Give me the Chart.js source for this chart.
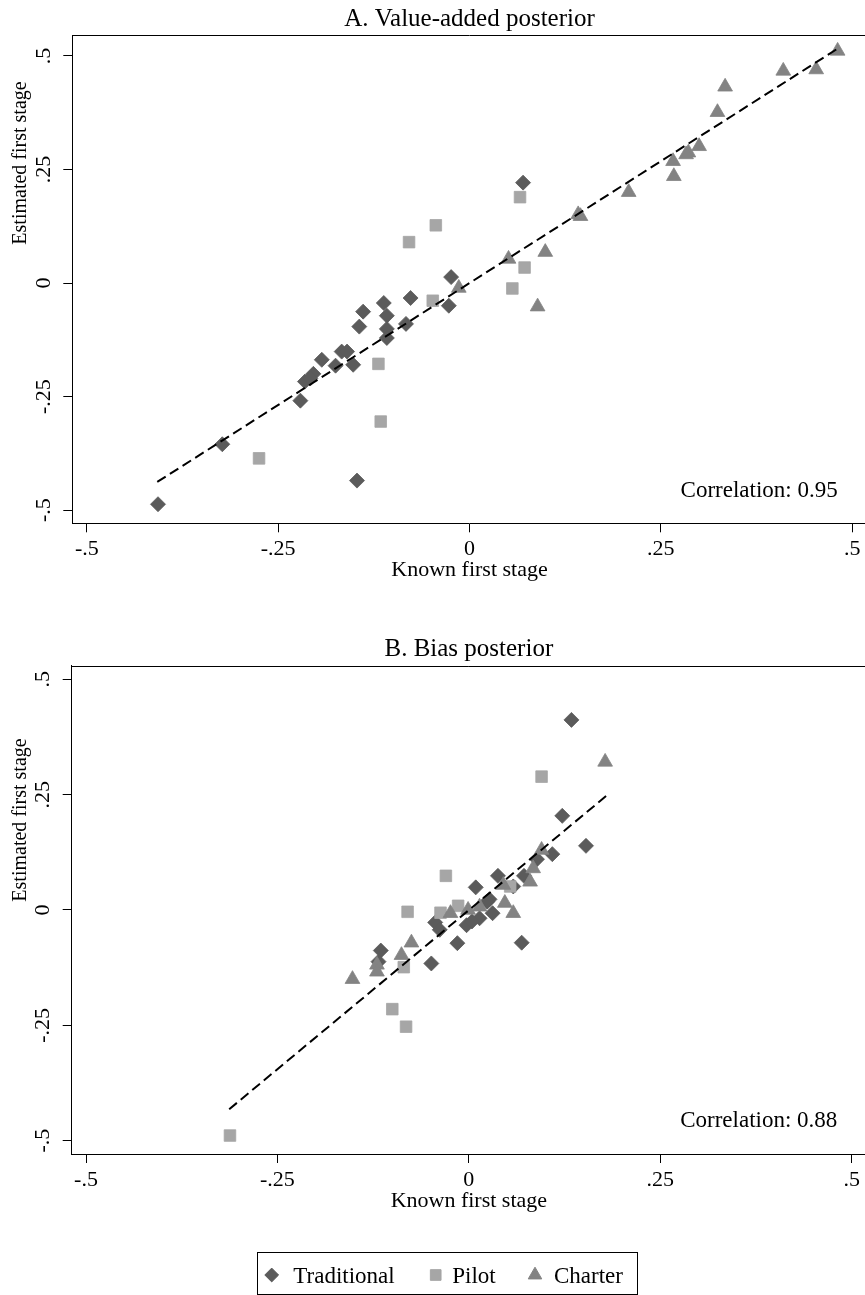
<!DOCTYPE html>
<html><head><meta charset="utf-8">
<script src="https://cdn.jsdelivr.net/npm/chart.js@4/dist/chart.umd.min.js"></script>
<style>
html,body{margin:0;padding:0;overflow:hidden;background:#fff}
body{width:865px;height:1295px;position:relative}
canvas{position:absolute;left:0}
#ca{top:0}
#cb{top:620px}
</style></head>
<body>
<canvas id="ca" width="880" height="600" style="width:880px;height:600px"></canvas>
<canvas id="cb" width="880" height="675" style="width:880px;height:675px"></canvas>
<script>
// ---------- tick labels ----------
const xTicks = [-0.5, -0.25, 0, 0.25, 0.5];
const xTickLabels = ['-.5', '-.25', '0', '.25', '.5'];
const yTicks = [-0.5, -0.25, 0, 0.25, 0.5];
const yTickLabels = ['-.5', '-.25', '0', '.25', '.5'];
const seriesNames = ['Traditional', 'Pilot', 'Charter'];

// ---------- Panel A: Value-added posterior ----------
const tradAx = [0.070, -0.024, -0.077, -0.027, -0.083, -0.112, -0.139, -0.108, -0.144, -0.108, -0.108, -0.167, -0.160, -0.193, -0.152, -0.175, -0.204, -0.215, -0.208, -0.221, -0.323, -0.147, -0.407];
const tradAy = [0.221, 0.013, -0.033, -0.050, -0.090, -0.044, -0.063, -0.072, -0.096, -0.101, -0.121, -0.151, -0.151, -0.169, -0.180, -0.182, -0.200, -0.217, -0.210, -0.259, -0.355, -0.435, -0.487];
const pilotAx = [0.066, -0.044, -0.079, 0.072, 0.056, -0.048, -0.119, -0.116, -0.275];
const pilotAy = [0.189, 0.127, 0.090, 0.034, -0.012, -0.039, -0.178, -0.305, -0.386];
const charterAx = [0.481, 0.453, 0.410, 0.334, 0.324, 0.300, 0.286, 0.283, 0.266, 0.267, 0.208, 0.145, 0.142, 0.099, 0.051, -0.014, 0.089];
const charterAy = [0.511, 0.470, 0.467, 0.432, 0.376, 0.301, 0.287, 0.283, 0.268, 0.235, 0.200, 0.147, 0.151, 0.068, 0.053, -0.011, -0.052];
const fitAx = [-0.408, 0.481];
const fitAy = [-0.438, 0.516];
const corrA = 'Correlation: 0.95';

// ---------- Panel B: Bias posterior ----------
const tradBx = [0.134, 0.122, 0.153, 0.109, 0.089, 0.038, 0.009, 0.072, 0.058, 0.027, 0.031, 0.024, 0.014, -0.003, 0.004, -0.044, -0.038, -0.015, -0.049, 0.069, -0.115, -0.118];
const tradBy = [0.412, 0.204, 0.139, 0.121, 0.110, 0.074, 0.049, 0.074, 0.051, 0.023, -0.007, 0.018, -0.018, -0.033, -0.025, -0.027, -0.043, -0.072, -0.116, -0.071, -0.088, -0.112];
const pilotBx = [0.095, -0.030, -0.080, -0.037, -0.014, -0.082, -0.085, -0.100, -0.312, 0.054];
const pilotBy = [0.289, 0.074, -0.004, -0.006, 0.009, -0.253, -0.124, -0.215, -0.489, 0.051];
const charterBx = [0.178, 0.095, 0.084, 0.080, 0.047, 0.058, 0.045, -0.024, -0.001, 0.014, -0.075, -0.088, -0.120, -0.120, -0.152];
const charterBy = [0.321, 0.130, 0.090, 0.061, 0.015, -0.007, 0.054, -0.007, 0.000, 0.007, -0.071, -0.098, -0.119, -0.134, -0.150];
const fitBx = [-0.313, 0.180];
const fitBy = [-0.432, 0.248];
const corrB = 'Correlation: 0.88';

// ---------- styling ----------
const FONT = '"Liberation Serif", "Times New Roman", serif';
const colors = { Traditional: '#5b5b5b', Pilot: '#a6a6a6', Charter: '#838383' };
const markers = {
  Traditional: { pointStyle: 'rectRot', r: 7.5 },
  Pilot: { pointStyle: 'rect', r: 8.2 },
  Charter: { pointStyle: 'triangle', r: 8.5 }
};

function pts(xs, ys) { return xs.map((x, i) => ({ x: x, y: ys[i] })); }

function scatterDs(name, xs, ys, order) {
  const m = markers[name], c = colors[name];
  return {
    label: name, data: pts(xs, ys), showLine: false, order: order,
    pointStyle: m.pointStyle, pointRadius: m.r, pointHoverRadius: m.r,
    backgroundColor: c, borderColor: c, pointBackgroundColor: c, pointBorderColor: c,
    pointBorderWidth: 0.8
  };
}

const decor = {
  id: 'decor',
  afterDraw(chart, args, o) {
    const ctx = chart.ctx, ca = chart.chartArea;
    ctx.save();
    ctx.strokeStyle = '#000'; ctx.lineWidth = 1;
    ctx.beginPath(); ctx.moveTo(ca.left, Math.round(ca.top) + 0.5); ctx.lineTo(ca.right, Math.round(ca.top) + 0.5); ctx.stroke();
    ctx.fillStyle = '#000';
    // panel title
    ctx.font = '25px ' + FONT; ctx.textAlign = 'center'; ctx.textBaseline = 'alphabetic';
    ctx.fillText(o.title, (ca.left + ca.right) / 2, o.titleY);
    // correlation note
    ctx.font = '23px ' + FONT; ctx.textAlign = 'right';
    ctx.fillText(o.corr, o.corrX, o.corrY);
    // y axis title
    ctx.save();
    ctx.translate(o.yTitleX, o.yTitleY); ctx.rotate(-Math.PI / 2);
    ctx.font = '20px ' + FONT; ctx.textAlign = 'center'; ctx.textBaseline = 'middle';
    ctx.fillText('Estimated first stage', 0, 0);
    ctx.restore();
    // legend
    if (o.legend) {
      const L = o.legend;
      ctx.strokeStyle = '#000'; ctx.lineWidth = 1;
      ctx.strokeRect(L.box[0] + 0.5, L.box[1] + 0.5, L.box[2], L.box[3]);
      ctx.font = '23px ' + FONT; ctx.textAlign = 'left'; ctx.textBaseline = 'alphabetic';
      seriesNames.forEach((n, i) => {
        const m = markers[n];
        ctx.fillStyle = colors[n]; ctx.strokeStyle = colors[n];
        Chart.helpers.drawPoint(ctx, { pointStyle: m.pointStyle, radius: m.r * 0.92, rotation: 0, borderWidth: 0.8 }, L.mx[i], L.my);
        ctx.fillStyle = '#000';
        ctx.fillText(n, L.tx[i], L.ty);
      });
    }
    ctx.restore();
  }
};

function build(id, p) {
  return new Chart(document.getElementById(id), {
    type: 'scatter',
    data: {
      datasets: [
        { label: 'fit', data: pts(p.fitX, p.fitY), showLine: true, borderColor: '#000', borderWidth: 2,
          borderDash: [10, 5], pointRadius: 0, pointHoverRadius: 0, fill: false, order: 0 },
        scatterDs('Charter', p.chX, p.chY, 1),
        scatterDs('Pilot', p.piX, p.piY, 2),
        scatterDs('Traditional', p.trX, p.trY, 3)
      ]
    },
    options: {
      responsive: false, animation: false, devicePixelRatio: 1,
      layout: { padding: { top: p.padTop, bottom: p.padBottom, left: 0, right: p.padRight } },
      plugins: { legend: { display: false }, tooltip: { enabled: false }, decor: p.decor },
      scales: {
        x: {
          type: 'linear', position: 'bottom', min: p.xMin, max: p.xMax,
          afterFit(s) { s.height = 70; },
          afterBuildTicks(s) { s.ticks = xTicks.map(v => ({ value: v })); },
          ticks: { autoSkip: false, maxRotation: 0, minRotation: 0, padding: 4, color: '#000',
                   font: { family: FONT, size: 22 }, callback: (v, i) => xTickLabels[i] },
          grid: { display: true, drawOnChartArea: false, drawTicks: true, tickLength: 9, color: '#000', lineWidth: 1 },
          border: { display: true, color: '#000', width: 1 },
          title: { display: true, text: 'Known first stage', color: '#000', font: { family: FONT, size: 22 },
                   padding: { top: 0, bottom: 10 } }
        },
        y: {
          type: 'linear', position: 'left', min: p.yMin, max: p.yMax,
          afterFit(s) { s.width = p.yWidth; },
          afterBuildTicks(s) { s.ticks = yTicks.map(v => ({ value: v })); },
          ticks: { autoSkip: false, minRotation: 90, maxRotation: 90, crossAlign: 'center', padding: 2, color: '#000',
                   font: { family: FONT, size: 22 }, callback: (v, i) => yTickLabels[i] },
          grid: { display: true, drawOnChartArea: false, drawTicks: true, tickLength: 9, color: '#000', lineWidth: 1 },
          border: { display: true, color: '#000', width: 1 },
          title: { display: false }
        }
      }
    },
    plugins: [decor]
  });
}

build('ca', {
  trX: tradAx, trY: tradAy, piX: pilotAx, piY: pilotAy, chX: charterAx, chY: charterAy, fitX: fitAx, fitY: fitAy,
  xMin: -0.519, xMax: 0.519, yMin: -0.529, yMax: 0.546,
  padTop: 35, padBottom: 6.7, padRight: 13.3, yWidth: 72.3,
  decor: { title: 'A. Value-added posterior', titleY: 26, corr: corrA, corrX: 837.7, corrY: 496.7, yTitleX: 21, yTitleY: 163 }
});

build('cb', {
  trX: tradBx, trY: tradBy, piX: pilotBx, piY: pilotBy, chX: charterBx, chY: charterBy, fitX: fitBx, fitY: fitBy,
  xMin: -0.5187, xMax: 0.5187, yMin: -0.529, yMax: 0.5295,
  padTop: 45.7, padBottom: 71, padRight: 14, yWidth: 71.7,
  decor: { title: 'B. Bias posterior', titleY: 35.7, corr: corrB, corrX: 837.3, corrY: 506.7, yTitleX: 21, yTitleY: 200,
           legend: { box: [257, 632, 380, 42], mx: [271.7, 435.7, 535], my: 655, tx: [293.3, 452.3, 554], ty: 663.3 } }
});
</script>
</body></html>
